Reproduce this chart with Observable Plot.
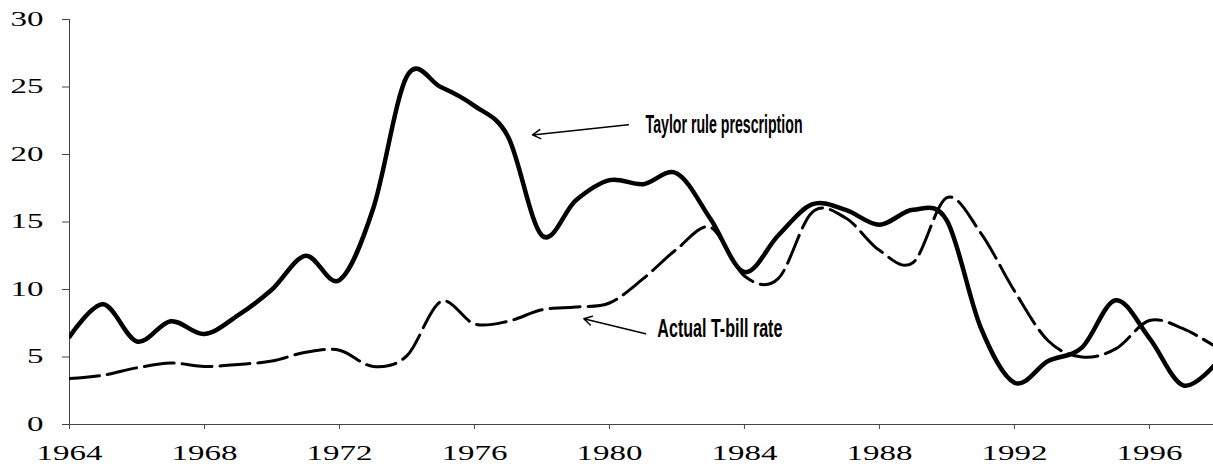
<!DOCTYPE html>
<html>
<head>
<meta charset="utf-8">
<script src="https://cdn.jsdelivr.net/npm/d3@7"></script>
<script src="https://cdn.jsdelivr.net/npm/@observablehq/plot@0.6"></script>
<style>
  html, body { margin: 0; padding: 0; background: #fff; overflow: hidden; }
  #chart { width: 1213px; height: 464px; }
</style>
</head>
<body>
<div id="chart"></div>
<script>
const years = [1964, 1965, 1966, 1967, 1968, 1969, 1970, 1971, 1972, 1973, 1974, 1975, 1976, 1977, 1978, 1979, 1980, 1981, 1982, 1983, 1984, 1985, 1986, 1987, 1988, 1989, 1990, 1991, 1992, 1993, 1994, 1995, 1996, 1997, 1998];
const taylorRule = [6.5, 8.9, 6.15, 7.65, 6.7, 8.1, 10.0, 12.5, 10.7, 16.0, 25.8, 25.0, 23.6, 21.3, 14.0, 16.6, 18.1, 17.8, 18.6, 15.2, 11.3, 14.0, 16.3, 15.9, 14.8, 15.9, 15.1, 7.2, 3.1, 4.7, 5.7, 9.2, 6.4, 2.9, 4.6];
const tBillRate = [3.4, 3.65, 4.2, 4.55, 4.3, 4.45, 4.7, 5.35, 5.5, 4.3, 5.1, 9.1, 7.45, 7.65, 8.5, 8.7, 9.0, 10.8, 13.0, 14.6, 11.0, 10.8, 15.7, 15.3, 12.9, 12.0, 16.8, 14.2, 9.9, 6.2, 5.0, 5.6, 7.7, 7.1, 5.7];
const xTicks = [1964, 1968, 1972, 1976, 1980, 1984, 1988, 1992, 1996];
const yTicks = [0, 5, 10, 15, 20, 25, 30];
const annotations = [
  {label: "Taylor rule prescription", x: 1981.07, y: 22.2, ax1: 1980.56, ay1: 22.2, ax2: 1977.72, ay2: 21.45},
  {label: "Actual T-bill rate", x: 1981.42, y: 7.1, ax1: 1981.07, ay1: 6.72, ax2: 1979.24, ay2: 7.83}
];

const taylorData = years.map((year, i) => ({year, value: taylorRule[i]}));
const tbillData = years.map((year, i) => ({year, value: tBillRate[i]}));

const chart = Plot.plot({
  width: 1213,
  height: 464,
  marginLeft: 69,
  marginRight: 0,
  marginTop: 19,
  marginBottom: 40,
  x: {domain: [1964, 1997.9]},
  y: {domain: [0, 30]},
  style: {background: "white", fontFamily: "'Liberation Serif', 'Times New Roman', serif", color: "#000", overflow: "hidden"},
  marks: [
    Plot.axisY({ticks: yTicks, tickSize: 7, tickPadding: 19, fontSize: 20, stroke: "#444", tickFormat: d => String(d), label: null}),
    Plot.axisX({ticks: xTicks, tickSize: 5, tickPadding: 15, fontSize: 22, stroke: "#444", tickFormat: d => String(d), label: null}),
    Plot.ruleX([1964], {stroke: "#444", strokeWidth: 1}),
    Plot.ruleY([0], {stroke: "#444", strokeWidth: 1}),
    Plot.line(taylorData, {x: "year", y: "value", curve: "cardinal", stroke: "#000", strokeWidth: 4.5, clip: true}),
    Plot.line(tbillData, {x: "year", y: "value", curve: "cardinal", stroke: "#000", strokeWidth: 3, strokeDasharray: "30,8", clip: true}),
    Plot.arrow(annotations, {x1: "ax1", y1: "ay1", x2: "ax2", y2: "ay2", stroke: "#000", strokeWidth: 1.5, headLength: 9, bend: 0}),
    Plot.text(annotations, {x: "x", y: "y", text: "label", textAnchor: "start", fontSize: 25, fontWeight: "bold", fontFamily: "'Liberation Sans Narrow', 'Liberation Sans', Arial, sans-serif", fill: "#000"})
  ]
});

document.getElementById("chart").appendChild(chart);

const widths = {"Taylor rule prescription": 157, "Actual T-bill rate": 125};
d3.select(chart).selectAll("text").each(function() {
  const t = this.textContent;
  if (/^\d+$/.test(t)) {
    this.setAttribute("textLength", t.length * 16.5);
    this.setAttribute("lengthAdjust", "spacingAndGlyphs");
  } else if (widths[t]) {
    this.setAttribute("textLength", widths[t]);
    this.setAttribute("lengthAdjust", "spacingAndGlyphs");
  }
});
</script>
</body>
</html>
